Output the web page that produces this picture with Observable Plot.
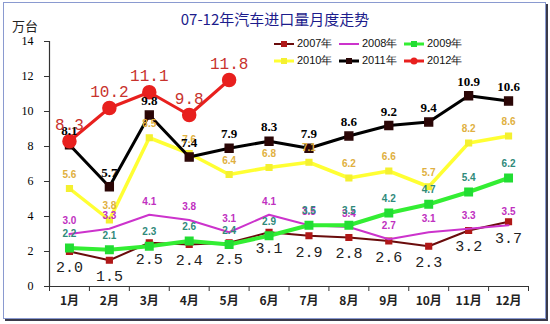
<!DOCTYPE html>
<html><head><meta charset="utf-8">
<script src="https://cdn.jsdelivr.net/npm/d3@7"></script>
<script src="https://cdn.jsdelivr.net/npm/@observablehq/plot@0.6"></script>
<style>
body{margin:0;background:#fff;}
#wrap{position:relative;width:550px;height:324px;overflow:hidden;}
#frame{position:absolute;left:3px;top:2px;width:541px;height:315px;border:1px solid #8a9ad0;box-shadow:2px 2px 0 #3a3a4a;pointer-events:none;}
#title{position:absolute;left:0;width:550px;top:8px;text-align:center;font:15px "Noto Sans CJK SC",sans-serif;color:#1c1c8c;}
#unit{position:absolute;left:12px;top:16px;font:13px "Noto Sans CJK SC",sans-serif;color:#222;}
#legend{position:absolute;left:274px;top:36px;display:grid;grid-template-columns:65px 65px 65px;row-gap:2px;font:11px "Liberation Sans",sans-serif;color:#111;}
.li{display:flex;align-items:center;height:15px;}
.li svg{margin-right:3px;}
#chart{position:absolute;left:0;top:0;}
#chart svg g[aria-label="y-axis tick label"]{font-family:"Liberation Serif",serif;}
</style></head><body>
<div id="wrap"><div id="chart"></div><div id="title">07-12年汽车进口量月度走势</div><div id="unit">万台</div><div id="legend"></div><div id="frame"></div></div>
<script>
const months = [1,2,3,4,5,6,7,8,9,10,11,12];
const monthLabels = ["1月","2月","3月","4月","5月","6月","7月","8月","9月","10月","11月","12月"];
const seriesNames = ["2007年","2008年","2009年","2010年","2011年","2012年"];
const v2007 = [2.0,1.5,2.5,2.4,2.5,3.1,2.9,2.8,2.6,2.3,3.2,3.7];
const v2008 = [3.0,3.3,4.1,3.8,3.1,4.1,3.5,3.4,2.7,3.1,3.3,3.5];
const v2009 = [2.2,2.1,2.3,2.6,2.4,2.9,3.5,3.5,4.2,4.7,5.4,6.2];
const v2010 = [5.6,3.8,8.5,7.6,6.4,6.8,7.1,6.2,6.6,5.7,8.2,8.6];
const v2011 = [8.1,5.7,9.8,7.4,7.9,8.3,7.9,8.6,9.2,9.4,10.9,10.6];
const v2012 = [8.3,10.2,11.1,9.8,11.8];
const yTicks = [0,2,4,6,8,10,12,14];

const styles = {
  "2007年": {line:"#6a0c0c", sw:2, dot:"#b01818", symbol:"square", r:3.2, lab:"#222", font:"Liberation Mono", fs:15, fw:"normal", dy:16},
  "2008年": {line:"#cc33cc", sw:2, dot:null, lab:"#c030c0", font:"Liberation Sans", fs:10, fw:"bold", dy:-13},
  "2009年": {line:"#33ee33", sw:4, dot:"#22dd33", symbol:"square", r:4.2, lab:"#2f8a7a", font:"Liberation Sans", fs:10, fw:"bold", dy:-14},
  "2010年": {line:"#ffff33", sw:3.5, dot:"#f4f030", symbol:"square", r:3.2, lab:"#e0b040", font:"Liberation Sans", fs:10, fw:"bold", dy:-14},
  "2011年": {line:"#000000", sw:3, dot:"#2a0606", symbol:"square", r:4.4, lab:"#000", font:"Liberation Serif", fs:13, fw:"bold", dy:-14},
  "2012年": {line:"#e8201e", sw:3, dot:"#e8201e", symbol:"circle", r:6.5, lab:"#c8322d", font:"Liberation Mono", fs:16, fw:"normal", dy:-16}
};
const vals = [v2007,v2008,v2009,v2010,v2011,v2012];
const data = seriesNames.map((s,i)=>vals[i].map((v,j)=>({series:s, month:months[j], value:v})));

const marks = [];
marks.push(Plot.ruleY([0], {stroke:"#333", strokeWidth:1.2}));
marks.push(Plot.ruleX([0.5], {y1:0, y2:14, stroke:"#333", strokeWidth:1.2}));
marks.push(Plot.axisY({ticks:yTicks, tickSize:5, tickPadding:11, fontSize:12, label:null, stroke:"#333"}));
marks.push(Plot.axisX({ticks:months.concat([0]).map(m=>m+0.5), tickSize:5, tickFormat:()=>"", label:null, stroke:"#333"}));
marks.push(Plot.axisX({ticks:months, tickSize:0, tickPadding:10, tickFormat:(d)=>monthLabels[d-1], label:null, fontSize:12, fontWeight:"bold", fill:"#222"}));
data.forEach((d,i)=>{
  const st = styles[seriesNames[i]];
  marks.push(Plot.line(d, {x:"month", y:"value", stroke:st.line, strokeWidth:st.sw}));
  if (st.dot) marks.push(Plot.dot(d, {x:"month", y:"value", symbol:st.symbol, r:st.r, fill:st.dot, stroke:st.dot}));
});
data.forEach((d,i)=>{
  const st = styles[seriesNames[i]];
  marks.push(Plot.text(d, {x:"month", y:"value", text:(e)=>e.value.toFixed(1), dy:st.dy, fill:st.lab, fontSize:st.fs, fontWeight:st.fw, fontFamily:st.font}));
});

const chart = Plot.plot({
  width:550, height:324,
  marginLeft:49, marginRight:22, marginTop:41, marginBottom:38,
  x:{type:"linear", domain:[0.5,12.5], axis:null},
  y:{domain:[0,14], axis:null},
  style:{background:"#fff", overflow:"visible", fontFamily:"'Noto Sans CJK SC', sans-serif"},
  marks
});
document.getElementById("chart").appendChild(chart);

// legend
const leg = document.getElementById("legend");
seriesNames.forEach(s=>{
  const st = styles[s];
  const div = document.createElement("div"); div.className="li";
  let mk = "";
  if (st.dot) {
    mk = st.symbol==="circle" ? `<circle cx="10" cy="6" r="3.5" fill="${st.dot}"/>` : `<rect x="7" y="3" width="6" height="6" fill="${st.dot}"/>`;
  }
  div.innerHTML = `<svg width="20" height="12"><line x1="0" x2="20" y1="6" y2="6" stroke="${st.line}" stroke-width="${Math.min(st.sw,3)}"/>${mk}</svg><span>${s}</span>`;
  leg.appendChild(div);
});
</script>
</body></html>
